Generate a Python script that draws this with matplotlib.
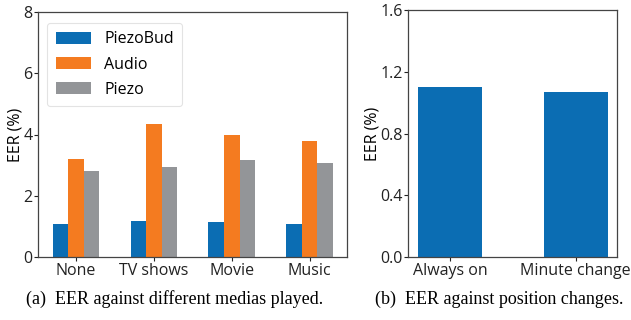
import matplotlib
matplotlib.use("Agg")
import matplotlib.pyplot as plt
import numpy as np

plt.rcParams['font.family'] = ['Open Sans', 'DejaVu Sans']

# EER for different media played
medias = ["None", "TV shows", "Movie", "Music"]
eer_piezobud = [1.07, 1.17, 1.14, 1.07]
eer_audio = [3.20, 4.34, 3.98, 3.79]
eer_piezo = [2.81, 2.94, 3.17, 3.07]

# EER for position changes
positions = ["Always on", "Minute change"]
eer_position = [1.10, 1.07]

c_blue = "#0b6db3"
c_orange = "#f47b20"
c_gray = "#939598"
spine_col = "#444444"

fig = plt.figure(figsize=(6.31, 3.2), dpi=100)
ax1 = fig.add_axes([38/631, 63/320, 309/631, 245/320])
ax2 = fig.add_axes([408/631, 63/320, 209/631, 247/320])

x = np.arange(len(medias))
w = 0.2
ax1.bar(x - w, eer_piezobud, w, color=c_blue, label="PiezoBud")
ax1.bar(x, eer_audio, w, color=c_orange, label="Audio")
ax1.bar(x + w, eer_piezo, w, color=c_gray, label="Piezo")
ax1.set_xlim(-0.49, 3.48)
ax1.set_ylim(0, 8)
ax1.set_yticks([0, 2, 4, 6, 8])
ax1.set_xticks(x)
ax1.set_xticklabels(medias)
ax1.set_ylabel("EER (%)", fontsize=11.5, labelpad=0)
leg = ax1.legend(loc="upper left", fontsize=11.5, handlelength=2.2, handleheight=0.8,
                 labelspacing=0.58, handletextpad=0.85, borderpad=0.52,
                 bbox_to_anchor=(0.03, 0.955), fancybox=True, borderaxespad=0)
leg.get_frame().set_edgecolor("#dddddd")
leg.get_frame().set_linewidth(0.8)

x2 = np.arange(len(positions))
ax2.bar(x2, eer_position, 0.51, color=c_blue)
ax2.set_xlim(-0.335, 1.33)
ax2.set_ylim(0, 1.6)
ax2.set_yticks([0.0, 0.4, 0.8, 1.2, 1.6])
ax2.set_yticklabels(["0.0", "0.4", "0.8", "1.2", "1.6"])
ax2.set_xticks(x2)
ax2.set_xticklabels(positions)
ax2.set_ylabel("EER (%)", fontsize=11.5, labelpad=0)

for ax in (ax1, ax2):
    for s in ax.spines.values():
        s.set_color(spine_col)
        s.set_linewidth(0.9)
    ax.tick_params(labelsize=11.5, length=3, width=0.8, pad=1, colors="#222222")

fig.text(175/631, 1 - 299/320, "(a)  EER against different medias played.",
         family="Liberation Serif", fontsize=13, ha="center", va="center")
fig.text(499/631, 1 - 299/320, "(b)  EER against position changes.",
         family="Liberation Serif", fontsize=13, ha="center", va="center")

fig.savefig("out.png", dpi=100)
